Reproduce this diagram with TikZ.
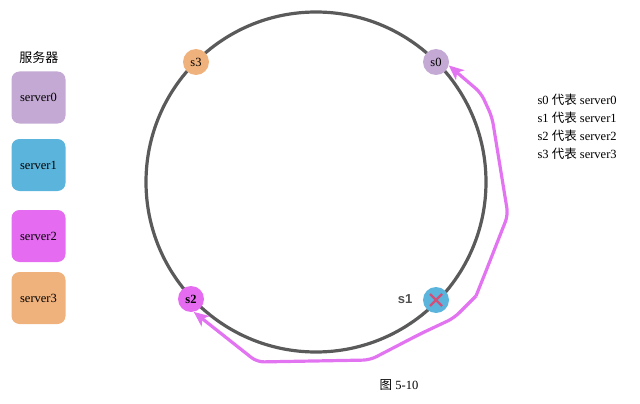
\documentclass[tikz,border=0pt]{standalone}
\usepackage{fontspec}
\setmainfont{Liberation Serif}
\setsansfont{Liberation Sans}
\newfontfamily\cjk{Noto Sans CJK SC}
\usetikzlibrary{arrows.meta,calc}
\definecolor{ring}{HTML}{5A5A5A}
\definecolor{cz}{HTML}{C3A9D3}
\definecolor{co}{HTML}{5BB4DC}
\definecolor{ct}{HTML}{E56CF0}
\definecolor{ch}{HTML}{F0B27C}
\definecolor{arr}{HTML}{E274F2}
\definecolor{xr}{HTML}{D0507A}
\begin{document}
\begin{tikzpicture}[x=1pt,y=-1pt,
  srv/.style={rounded corners=8pt,minimum width=54pt,minimum height=52pt,inner sep=0pt,font=\fontsize{12.5}{14}\selectfont},
  pt/.style={circle,minimum size=26pt,inner sep=0pt,font=\fontsize{12.5}{14}\selectfont},
  move/.style={draw=arr,line width=3.2pt,rounded corners=7pt,-{Stealth[length=15pt,width=13pt,inset=4pt]}}]
\useasboundingbox (0,0) rectangle (640,404);
% ring
\node[circle,draw=ring,line width=3.2pt,minimum size=340pt,inner sep=0pt] (ringc) at (316,182) {};
% servers legend (left)
\node[font=\cjk\fontsize{13}{15}\selectfont] (title) at (39,58) {服务器};
\node[srv,fill=cz] (b0) at (38.5,97.5) {server0};
\node[srv,fill=co] (b1) at (38.5,165) {server1};
\node[srv,fill=ct] (b2) at (38.5,236) {server2};
\node[srv,fill=ch] (b3) at (38.5,298) {server3};
% ring points
\node[pt,fill=ch] (s3) at (196,62) {s3};
\node[pt,fill=cz] (s0) at (436,62) {s0};
\node[pt,fill=ct] (s2) at (191,299) {\textbf{s2}};
\node[pt,fill=co] (s1) at (436,300) {};
\draw[xr,line width=2.4pt] ($(s1)+(-6,-6)$) -- ($(s1)+(6,6)$) ($(s1)+(-6,6)$) -- ($(s1)+(6,-6)$);
\node[font=\sffamily\bfseries\fontsize{13}{15}\selectfont,text=ring!90!black] (l1) at (405,299) {s1};
% migration arrows
\coordinate (t) at (476,296);
\draw[move] (t) -- (486,271) -- (508,215) -- (492,117) -- (481,93) -- (s0.-15);
\draw[move] (t) -- (454,318) -- (420,334) -- (370,360) -- (257,362) -- (s2.-78);
% legend right
\node[anchor=north west,align=left,font=\fontsize{12.5}{18}\selectfont] (leg) at (534,90)
  {s0 {\cjk 代表} server0\\ s1 {\cjk 代表} server1\\ s2 {\cjk 代表} server2\\ s3 {\cjk 代表} server3};
\node[font=\fontsize{12.5}{15}\selectfont] (cap) at (399,385) {{\cjk 图} 5-10};
\end{tikzpicture}
\end{document}
